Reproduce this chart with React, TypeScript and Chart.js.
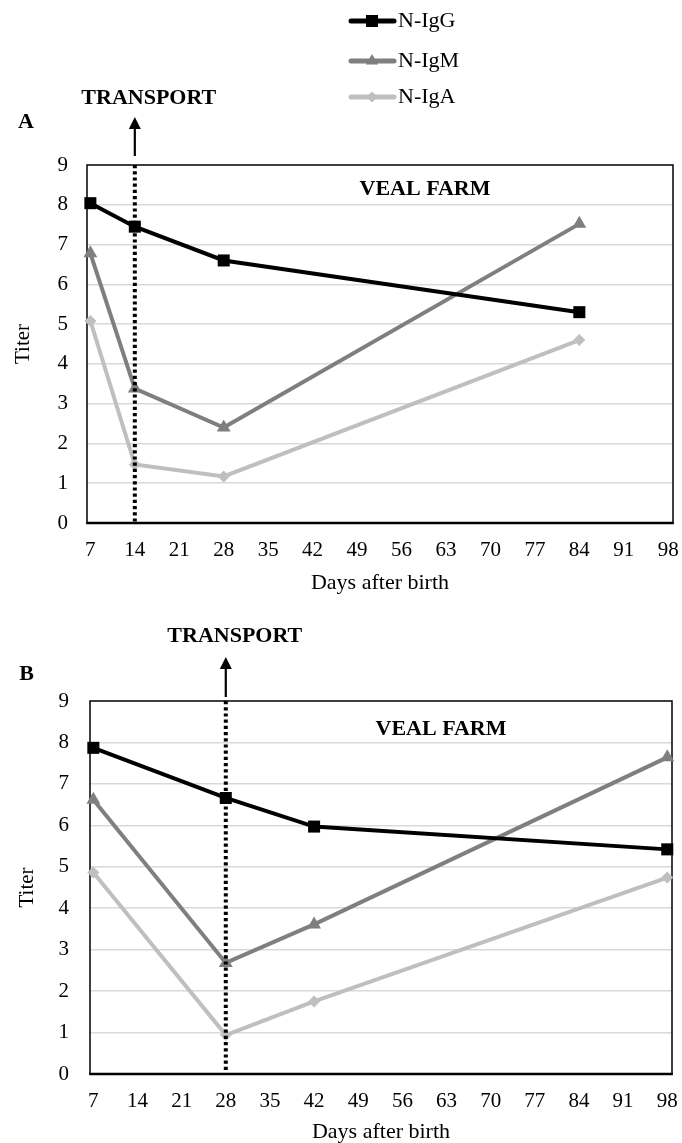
import React, { useEffect, useRef } from 'react';
import { Chart, registerables } from 'chart.js';

Chart.register(...registerables);

// ---------- data ----------
const SERIES_NAMES = ['N-IgG', 'N-IgM', 'N-IgA'];
const SERIES_COLORS = ['#000000', '#7f7f7f', '#bfbfbf'];
const SERIES_MARKERS = ['rect', 'triangle', 'rectRot'];
const SERIES_RADII = [8.5, 8, 6];

const X_TICKS = [7, 14, 21, 28, 35, 42, 49, 56, 63, 70, 77, 84, 91, 98];
const Y_TICKS = [0, 1, 2, 3, 4, 5, 6, 7, 8, 9];
const X_TITLE = 'Days after birth';
const Y_TITLE = 'Titer';
const TRANSPORT_LABEL = 'TRANSPORT';
const FARM_LABEL = 'VEAL FARM';

// Panel A
const DAYS_A = [7, 14, 28, 84];
const IGG_A = [8.04, 7.45, 6.6, 5.3];
const IGM_A = [6.78, 3.38, 2.4, 7.52];
const IGA_A = [5.08, 1.47, 1.17, 4.6];
const TRANSPORT_DAY_A = 14;

// Panel B
const DAYS_B = [7, 28, 42, 98];
const IGG_B = [7.87, 6.66, 5.97, 5.42];
const IGM_B = [6.62, 2.68, 3.61, 7.64];
const IGA_B = [4.86, 0.94, 1.75, 4.74];
const TRANSPORT_DAY_B = 28;

const SERIF = '"Liberation Serif", "Times New Roman", serif';

type PanelCfg = {
  letter: string;
  days: number[];
  series: number[][];
  transportDay: number;
  canvasTop: number;
  canvasHeight: number;
  area: { left: number; right: number; top: number; bottom: number };
  yTickPad: number;
  yTitlePad: number;
  xTitlePad: number;
  letterPos: [number, number];
  transportDx: number;
  transportY: number;
  arrowGap: number;
  arrowTipY: number;
  farmPos: [number, number];
  legend: boolean;
};

const PANELS: PanelCfg[] = [
  {
    letter: 'A',
    days: DAYS_A,
    series: [IGG_A, IGM_A, IGA_A],
    transportDay: TRANSPORT_DAY_A,
    canvasTop: 0,
    canvasHeight: 600,
    area: { left: 87, right: 673, top: 165, bottom: 523 },
    yTickPad: 19,
    yTitlePad: 11,
    xTitlePad: 4,
    letterPos: [26, 122],
    transportDx: 14,
    transportY: 98,
    arrowGap: 9,
    arrowTipY: 117,
    farmPos: [425, 189],
    legend: true,
  },
  {
    letter: 'B',
    days: DAYS_B,
    series: [IGG_B, IGM_B, IGA_B],
    transportDay: TRANSPORT_DAY_B,
    canvasTop: 600,
    canvasHeight: 560,
    area: { left: 90, right: 672, top: 701, bottom: 1074 },
    yTickPad: 21,
    yTitlePad: 15,
    xTitlePad: 15,
    letterPos: [26.5, 674.5],
    transportDx: 9,
    transportY: 636,
    arrowGap: 4,
    arrowTipY: 657,
    farmPos: [441, 729],
    legend: false,
  },
];

function drawMarker(ctx: CanvasRenderingContext2D, kind: string, x: number, y: number) {
  ctx.beginPath();
  if (kind === 'rect') {
    ctx.rect(x - 6, y - 6, 12, 12);
  } else if (kind === 'triangle') {
    ctx.moveTo(x, y - 7);
    ctx.lineTo(x + 6.1, y + 3.5);
    ctx.lineTo(x - 6.1, y + 3.5);
    ctx.closePath();
  } else {
    ctx.moveTo(x, y - 5.5);
    ctx.lineTo(x + 5.5, y);
    ctx.lineTo(x, y + 5.5);
    ctx.lineTo(x - 5.5, y);
    ctx.closePath();
  }
  ctx.fill();
}

function makePlugin(cfg: PanelCfg) {
  const off = cfg.canvasTop;
  return {
    id: 'panelDecor',
    beforeDatasetsDraw(chart: any) {
      const { ctx, chartArea } = chart;
      const { left, right, top, bottom } = chartArea;
      ctx.save();
      ctx.strokeStyle = '#000';
      ctx.lineWidth = 1.5;
      ctx.strokeRect(left, top, right - left, bottom - top);
      ctx.lineWidth = 2.4;
      ctx.beginPath();
      ctx.moveTo(left - 0.75, bottom);
      ctx.lineTo(right + 0.75, bottom);
      ctx.stroke();
      ctx.restore();
    },
    afterDatasetsDraw(chart: any) {
      const { ctx, chartArea } = chart;
      const xs = chart.scales.x;
      const x = xs.getPixelForValue(cfg.transportDay);
      ctx.save();
      // dotted transport line
      ctx.strokeStyle = '#000';
      ctx.lineWidth = 4;
      ctx.setLineDash([3.2, 3]);
      ctx.beginPath();
      ctx.moveTo(x, chartArea.top);
      ctx.lineTo(x, chartArea.bottom);
      ctx.stroke();
      ctx.setLineDash([]);
      // arrow
      const tip = cfg.arrowTipY - off;
      const shaftEnd = chartArea.top - cfg.arrowGap;
      ctx.lineWidth = 2.2;
      ctx.beginPath();
      ctx.moveTo(x, shaftEnd);
      ctx.lineTo(x, tip + 10);
      ctx.stroke();
      ctx.fillStyle = '#000';
      ctx.beginPath();
      ctx.moveTo(x, tip);
      ctx.lineTo(x + 6, tip + 12);
      ctx.lineTo(x - 6, tip + 12);
      ctx.closePath();
      ctx.fill();
      // texts
      ctx.font = `bold 22px ${SERIF}`;
      ctx.textAlign = 'center';
      ctx.textBaseline = 'middle';
      ctx.fillText(TRANSPORT_LABEL, x + cfg.transportDx, cfg.transportY - off);
      ctx.fillText(FARM_LABEL, cfg.farmPos[0], cfg.farmPos[1] - off);
      ctx.fillText(cfg.letter, cfg.letterPos[0], cfg.letterPos[1] - off);
      // legend
      if (cfg.legend) {
        const ys = [21, 61, 97];
        SERIES_NAMES.forEach((name, i) => {
          const y = ys[i];
          ctx.strokeStyle = SERIES_COLORS[i];
          ctx.fillStyle = SERIES_COLORS[i];
          ctx.lineWidth = 5;
          ctx.lineCap = 'round';
          ctx.beginPath();
          ctx.moveTo(351, y);
          ctx.lineTo(394, y);
          ctx.stroke();
          drawMarker(ctx, SERIES_MARKERS[i], 372, y);
          ctx.fillStyle = '#000';
          ctx.font = `22px ${SERIF}`;
          ctx.textAlign = 'left';
          ctx.textBaseline = 'middle';
          ctx.fillText(name, 398, y);
        });
      }
      ctx.restore();
    },
  };
}

function buildConfig(cfg: PanelCfg): any {
  const a = cfg.area;
  const off = cfg.canvasTop;
  return {
    type: 'line',
    data: {
      datasets: cfg.series.map((vals, i) => ({
        label: SERIES_NAMES[i],
        data: cfg.days.map((d, j) => ({ x: d, y: vals[j] })),
        borderColor: SERIES_COLORS[i],
        backgroundColor: SERIES_COLORS[i],
        pointBackgroundColor: SERIES_COLORS[i],
        pointBorderColor: SERIES_COLORS[i],
        pointBorderWidth: 0,
        pointStyle: SERIES_MARKERS[i],
        pointRadius: SERIES_RADII[i],
        borderWidth: 4,
        tension: 0,
        clip: false,
      })),
    },
    options: {
      responsive: false,
      animation: false,
      events: [],
      layout: {
        padding: { left: 0, top: a.top - off, right: 682 - a.right, bottom: 0 },
      },
      plugins: {
        legend: { display: false },
        tooltip: { enabled: false },
      },
      scales: {
        x: {
          type: 'linear',
          min: 6.47,
          max: 98.75,
          afterBuildTicks: (s: any) => {
            s.ticks = X_TICKS.map((v) => ({ value: v }));
          },
          afterFit: (s: any) => {
            s.height = cfg.canvasTop + cfg.canvasHeight - a.bottom;
            s.paddingLeft = 0;
            s.paddingRight = 0;
          },
          grid: { display: false, drawTicks: false },
          border: { display: false },
          ticks: {
            color: '#000',
            font: { family: SERIF, size: 21 },
            padding: 15,
            autoSkip: false,
            maxRotation: 0,
          },
          title: {
            display: true,
            text: X_TITLE,
            color: '#000',
            font: { family: SERIF, size: 22 },
            padding: { top: 0, bottom: cfg.xTitlePad },
          },
        },
        y: {
          min: 0,
          max: 9,
          afterBuildTicks: (s: any) => {
            s.ticks = Y_TICKS.map((v) => ({ value: v }));
          },
          afterFit: (s: any) => {
            s.width = a.left;
            s.paddingTop = 0;
            s.paddingBottom = 0;
          },
          grid: {
            drawTicks: false,
            lineWidth: 1.5,
            color: (c: any) =>
              c.tick && (c.tick.value === 0 || c.tick.value === 9) ? 'rgba(0,0,0,0)' : '#d9d9d9',
          },
          border: { display: false },
          ticks: {
            color: '#000',
            font: { family: SERIF, size: 21 },
            padding: cfg.yTickPad,
          },
          title: {
            display: true,
            text: Y_TITLE,
            color: '#000',
            font: { family: SERIF, size: 21 },
            padding: { top: cfg.yTitlePad, bottom: 0 },
          },
        },
      },
    },
    plugins: [makePlugin(cfg)],
  };
}

function PanelChart({ cfg }: { cfg: PanelCfg }) {
  const ref = useRef<HTMLCanvasElement>(null);
  useEffect(() => {
    const chart = new Chart(ref.current as HTMLCanvasElement, buildConfig(cfg));
    return () => chart.destroy();
  }, [cfg]);
  return (
    <canvas
      ref={ref}
      width={682}
      height={cfg.canvasHeight}
      style={{ position: 'absolute', left: 0, top: cfg.canvasTop, width: 682, height: cfg.canvasHeight }}
    />
  );
}

export default function App() {
  return (
    <div
      style={{
        position: 'fixed',
        left: 0,
        top: 0,
        width: 682,
        height: 1143,
        overflow: 'hidden',
        background: '#fff',
      }}
    >
      {PANELS.map((p) => (
        <PanelChart key={p.letter} cfg={p} />
      ))}
    </div>
  );
}
